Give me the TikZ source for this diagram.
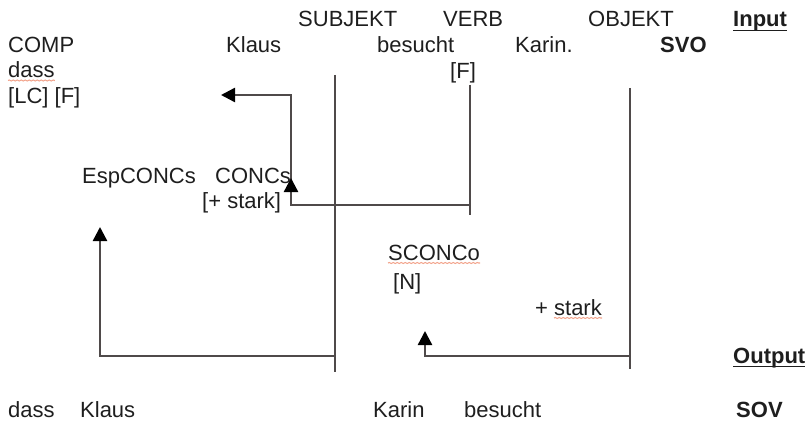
\documentclass[tikz,border=0pt]{standalone}
\usepackage{fontspec}
\setmainfont{Liberation Sans}
\usetikzlibrary{arrows.meta,decorations.pathmorphing}
\definecolor{ink}{HTML}{1E1E1E}
\definecolor{rule}{HTML}{4F4A4A}
\definecolor{spell}{HTML}{F2A48C}
\begin{document}
\begin{tikzpicture}[x=1pt,y=-1pt,
  lbl/.style={inner sep=0pt, anchor=base west, font=\fontsize{22}{26}\selectfont, text=ink},
  bold/.style={lbl, font=\fontsize{22}{26}\selectfont\bfseries},
  track/.style={draw=rule, line width=2.4pt},
  mover/.style={track, -{Triangle[width=14pt,length=14pt,color=black]}},
  squiggle/.style={draw=spell, line width=1.1pt, decorate,
    decoration={snake, amplitude=0.5pt, segment length=4pt}},
  uline/.style={draw=ink, line width=1.6pt}]
\useasboundingbox (0,0) rectangle (810,422);

% constituent labels
\node[lbl] (sub) at (298,27) {SUBJEKT};
\node[lbl] (verb) at (443,27) {VERB};
\node[lbl] (obj) at (588,27) {OBJEKT};
\node[bold] (input) at (733,27) {Input};

% input sentence
\node[lbl] (comp) at (8,53) {COMP};
\node[lbl] (klaus) at (226,53) {Klaus};
\node[lbl] (besucht) at (377,53) {besucht};
\node[lbl] (karin) at (515,53) {Karin.};
\node[bold] (svo) at (660,53) {SVO};
\node[lbl] (dass) at (8,78) {dass};
\node[lbl] (lcf) at (8,104) {[LC] [F]};
\node[lbl] (fv) at (450,79) {[F]};

% functional projections
\node[lbl] (espconcs) at (82,183) {EspCONCs};
\node[lbl] (concs) at (215,183) {CONCs};
\node[lbl] (stark1) at (202,208) {[+ stark]};
\node[lbl] (sconco) at (388,260) {SCONCo};
\node[lbl] (nn) at (393,289) {[N]};
\node[lbl] (stark2) at (535,315) {+ stark};

% output sentence
\node[bold] (output) at (733,363) {Output};
\node[lbl] (dassB) at (8,417) {dass};
\node[lbl] (klausB) at (80,417) {Klaus};
\node[lbl] (karinB) at (373,417) {Karin};
\node[lbl] (besuchtB) at (464,417) {besucht};
\node[bold] (sov) at (736,417) {SOV};

% underlines
\draw[uline] ([yshift=-3.5pt]input.base west) -- ([yshift=-3.5pt]input.base east);
\draw[uline] ([yshift=-3.5pt]output.base west) -- ([yshift=-3.5pt]output.base east);
\draw[squiggle] ([yshift=-2.5pt]dass.base west) -- ([yshift=-2.5pt]dass.base east);
\draw[squiggle] ([yshift=-3pt]sconco.base west) -- ([yshift=-3pt]sconco.base east);
\draw[squiggle] ([xshift=19pt,yshift=-3pt]stark2.base west) -- ([yshift=-3pt]stark2.base east);

% movement paths
\coordinate (vtop) at (470,85);
\coordinate (vbot) at (470,215);
\coordinate (vturn) at (470,205);
\coordinate (cturn) at (291,205);
\coordinate (chead) at (291,178);
\coordinate (cup) at (291,95);
\coordinate (ctip) at (221,95);
\draw[track] (vtop) -- (vbot);
\draw[mover] (vturn) -- (cturn) -- (cup) -- (ctip);
\draw[mover] (cturn) -- (chead);

\coordinate (stop) at (335,75);
\coordinate (sbot) at (335,372);
\coordinate (sturn) at (335,356);
\coordinate (scorner) at (100,356);
\coordinate (stip) at (100,227);
\draw[track] (stop) -- (sbot);
\draw[mover] (sturn) -- (scorner) -- (stip);

\coordinate (otop) at (630,88);
\coordinate (obot) at (630,369);
\coordinate (oturn) at (630,356);
\coordinate (ocorner) at (425,356);
\coordinate (otip) at (425,331);
\draw[track] (otop) -- (obot);
\draw[mover] (oturn) -- (ocorner) -- (otip);
\end{tikzpicture}
\end{document}
